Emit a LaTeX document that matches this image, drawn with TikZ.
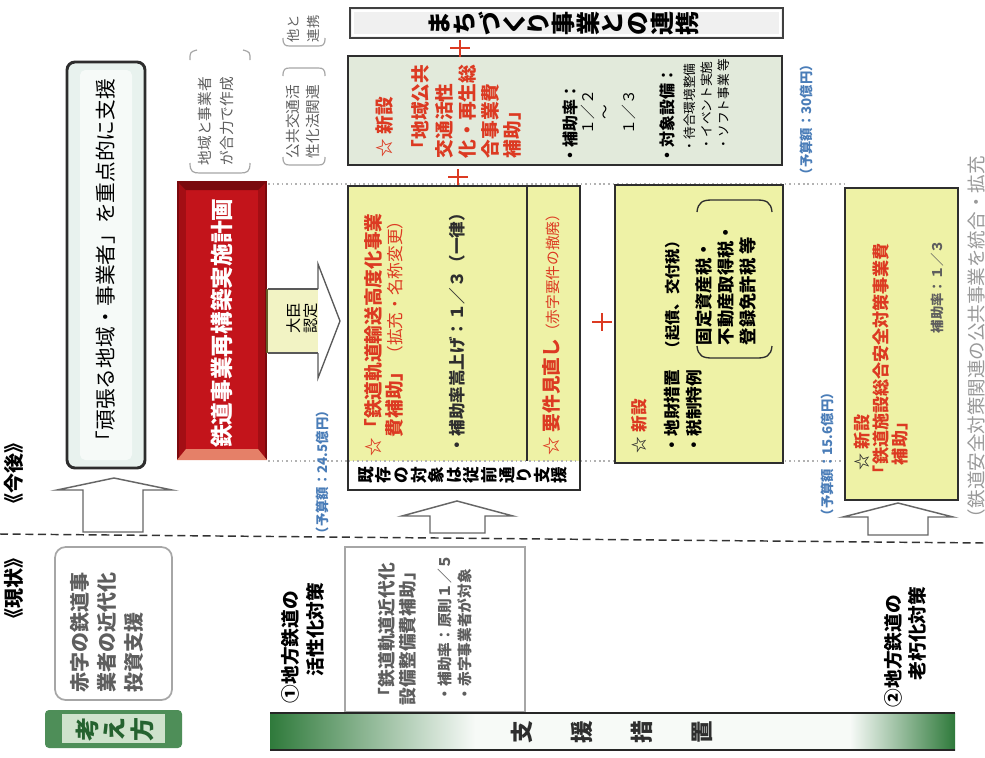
\documentclass[tikz,border=0pt]{standalone}
\usepackage{fontspec}
\newfontfamily\jp{Noto Sans CJK JP}
\usetikzlibrary{fit}
\definecolor{jred}{HTML}{DC3A22}
\definecolor{jblue}{HTML}{4A7DB8}
\definecolor{jyel}{HTML}{EEF2A6}
\definecolor{jlg}{HTML}{E2EADB}
\definecolor{jdark}{HTML}{2E2E2E}
\definecolor{jgray}{HTML}{5E5E5E}
\definecolor{jgreen}{HTML}{2F7A3B}
\definecolor{jgreenl}{HTML}{CFE2CC}
\definecolor{rdark}{HTML}{7A0A0E}
\definecolor{rmid}{HTML}{C3141B}
\definecolor{rlight}{HTML}{E58068}
\definecolor{rside}{HTML}{A30E14}
\definecolor{arrowy}{HTML}{F2F3C4}
\definecolor{mint}{HTML}{E8F2EE}
\newcommand\fs[1]{\fontsize{#1}{#1}\selectfont}
\begin{document}
\begin{tikzpicture}[x=0.75pt,y=-0.75pt,
  vt/.style={rotate=90,anchor=west,inner sep=0pt,outer sep=0pt},
  ch/.style={rotate=90,inner sep=0pt,outer sep=0pt},
  frame/.style={draw=jdark,line width=1.8pt},
  blockarrow/.style={draw=gray!80!black,line width=1.1pt,fill=white},
  plus/.style={draw=jred,line width=1.9pt},
  dotline/.style={draw=gray!60,line width=0.9pt,dash pattern=on 1.2pt off 2.2pt},
  bracket/.style={draw=gray!70,line width=0.9pt},
  boxname/.style={inner sep=0pt,outer sep=0pt}
]
\useasboundingbox (0,0) rectangle (985,757);
\fill[white] (0,0) rectangle (985,757);

% ---- dividers
\draw[dotline] (268,184) -- (848,184);
\draw[dotline] (268,461) -- (848,461);
\draw[draw=gray!40!black,line width=1.1pt,dash pattern=on 6pt off 3.5pt] (0,534) -- (985,543);

% ---- left labels
\node[vt,font=\jp\bfseries\fs{15}] (kongo) at (14,513) {《今後》};
\node[vt,font=\jp\bfseries\fs{15}] (genjo) at (14,628) {《現状》};

% ---- gambaru box
\draw[line width=2.2pt,draw=gray!35!black,fill=mint,rounded corners=6pt] (67,62) rectangle (145,468);
\fill[white!60!mint,rounded corners=4pt] (80,70) rectangle (132,460);
\node[boxname,fit={(67,62)(145,468)}] (gambaru) {};
\node[ch,font=\jp\fs{15.5}] (gambarutext) at (gambaru.center) {「頑張る地域・事業者」を重点的に支援};

% ---- red plan box
\fill[rdark] (177,181) rectangle (267,460);
\fill[rside] (179,183) rectangle (265,458);
\fill[rmid] (186,190) rectangle (258,449);
\fill[rlight] (177,460) -- (186,449) -- (258,449) -- (267,460) -- cycle;
\fill[rdark] (177,181) -- (267,181) -- (258,190) -- (186,190) -- cycle;
\node[boxname,fit={(177,181)(267,460)}] (plan) {};
\node[ch,font=\jp\bfseries\fs{17},text=white] (plantext) at (222,323) {鉄道事業再構築実施計画};

% ---- small bracket labels
\node[vt,font=\jp\fs{11},text=jgray] (la1) at (205,165) {地域と事業者};
\node[vt,font=\jp\fs{11},text=jgray] (la2) at (227,165) {が合力で作成};
\draw[bracket] (190,60) .. controls (190,52) .. (197,50);
\draw[bracket] (243,50) .. controls (250,52) .. (250,60);
\draw[bracket] (190,163) .. controls (190,172) and (193,173) .. (200,173) -- (240,173) .. controls (247,173) and (250,172) .. (250,163);

\node[vt,font=\jp\fs{11},text=jgray] (lb1) at (293,158) {公共交通活};
\node[vt,font=\jp\fs{11},text=jgray] (lb2) at (313,158) {性化法関連};
\draw[bracket] (283,76) .. controls (283,69) and (285,68) .. (290,68) -- (318,68) .. controls (323,68) and (325,69) .. (325,76);
\draw[bracket] (283,157) .. controls (283,164) and (285,165) .. (290,165) -- (318,165) .. controls (323,165) and (325,164) .. (325,157);

\node[vt,font=\jp\fs{10},text=jgray] (lc1) at (293,42) {他と};
\node[vt,font=\jp\fs{10},text=jgray] (lc2) at (313,42) {連携};
\draw[bracket] (283,38) .. controls (283,45) and (285,46) .. (290,46) -- (318,46) .. controls (323,46) and (325,45) .. (325,38);

% ---- minister arrow
\fill[arrowy] (268,289) rectangle (318,353);
\draw[draw=gray!70!black,line width=1pt,fill=white] (318,289) -- (318,264) -- (340,321) -- (318,378) -- (318,353);
\draw[draw=gray!70!black,line width=1pt] (268,289) -- (318,289) (268,353) -- (318,353);
\draw[draw=olive!60!black,line width=1.6pt] (plan.east |- 0,289) -- (plan.east |- 0,353);
\node[ch,font=\jp\fs{11.5}] (daijin1) at (294,318) {大臣};
\node[ch,font=\jp\fs{11.5}] (daijin2) at (311,318) {認定};

% ---- top box
\draw[draw=gray!50!black,line width=1.5pt,fill=gray!12] (350,8) rectangle (783,38);
\draw[draw=white,line width=0.8pt] (353,11) rectangle (780,35);
\node[boxname,fit={(350,8)(783,38)}] (machi) {};
\foreach \c [count=\i from 0] in {ま,ち,づ,く,り,事,業,と,の,連,携}
  \node[ch,font=\jp\bfseries\fs{18}] (mc\i) at ({440+\i*24.7},23) {\c};

% ---- light green box
\draw[frame,fill=jlg] (348,56) rectangle (782,165);
\node[boxname,fit={(348,56)(782,165)}] (chiiki) {};
\node[vt,font=\jp\bfseries\fs{14},text=jred] (g1) at (385,157) {☆ 新設};
\node[vt,font=\jp\bfseries\fs{14},text=jred] (g2) at (420,158) {「地域公共};
\node[vt,font=\jp\bfseries\fs{14},text=jred] (g3) at (444,158) {交通活性};
\node[vt,font=\jp\bfseries\fs{14},text=jred] (g4) at (467,158) {化・再生総};
\node[vt,font=\jp\bfseries\fs{14},text=jred] (g5) at (490,158) {合事業費};
\node[vt,font=\jp\bfseries\fs{14},text=jred] (g6) at (512,158) {補助」};
\node[vt,font=\jp\bfseries\fs{12}] (g7) at (570,163) {・補助率：};
\node[vt,font=\jp\fs{11}] (g8) at (588,134) {１／２};
\node[ch,font=\jp\fs{11}] (g9) at (607,112) {～};
\node[vt,font=\jp\fs{11}] (g10) at (629,134) {１／３};
\node[vt,font=\jp\bfseries\fs{12}] (g11) at (667,163) {・対象設備：};
\node[vt,font=\jp\fs{9.5}] (g12) at (690,152) {・待合環境整備};
\node[vt,font=\jp\fs{9.5}] (g13) at (707,150) {・イベント実施};
\node[vt,font=\jp\fs{9.5}] (g14) at (724,150) {・ソフト事業 等};

% ---- pluses
\draw[plus] (450,48) -- (470,48) (460,40) -- (460,57);
\draw[plus] (448,177) -- (468,177) (458,169) -- (458,186);
\draw[plus] (592,322) -- (612,322) (602,313) -- (602,331);

% ---- main yellow box
\fill[jyel] (348,186) rectangle (580,461);
\fill[white] (348,461) rectangle (580,490);
\draw[dotline] (348,461) -- (580,461);
\draw[draw=jdark,line width=1.1pt] (527,186) -- (527,461);
\draw[frame] (348,186) rectangle (580,490);
\node[boxname,fit={(348,186)(580,490)}] (kodoka) {};
\node[vt,font=\jp\bfseries\fs{14},text=jred] (y1) at (373,456) {☆「鉄道軌道輸送高度化事業};
\node[vt,font=\jp\fs{14},text=jred] (y2) at (394,437) {{\bfseries 費補助」}{\fs{12.5}（拡充・名称変更）}};
\node[vt,font=\jp\bfseries\fs{12.4},text=jdark] (y3) at (457,453) {・補助率嵩上げ：１／３（一律）};
\node[vt,font=\jp\fs{14},text=jred] (y4) at (551,455) {{\bfseries ☆ 要件見直し}{\fs{11}（赤字要件の撤廃）}};
\foreach \c [count=\i from 0] in {既,存,の,対,象,は,従,前,通,り,支,援}
  \node[ch,font=\jp\bfseries\fs{12.5}] (kz\i) at ({366+\i*17.6},475) {\c};

% ---- tax box
\draw[frame,fill=jyel] (615,185) rectangle (783,463);
\node[boxname,fit={(615,185)(783,463)}] (zeisei) {};
\node[vt,font=\jp\bfseries\fs{12.5},text=jred] (t1) at (639,453) {{\color{jdark}☆} 新設};
\node[vt,font=\jp\bfseries\fs{12.5}] (t2) at (672,453) {・地財措置};
\node[vt,font=\jp\bfseries\fs{11.5}] (t3) at (673,356) {（起債、交付税）};
\node[vt,font=\jp\bfseries\fs{12.5}] (t4) at (694,453) {・税制特例};
\node[vt,font=\jp\bfseries\fs{13}] (t5) at (704,345) {固定資産税・};
\node[vt,font=\jp\bfseries\fs{13}] (t6) at (726,345) {不動産取得税・};
\node[vt,font=\jp\bfseries\fs{13}] (t7) at (748,345) {登録免許税 等};
\draw[draw=jdark,line width=1pt] (697,346) .. controls (698,356) and (703,358) .. (712,358) -- (757,358) .. controls (766,358) and (771,356) .. (772,346);
\draw[draw=jdark,line width=1pt] (697,212) .. controls (698,202) and (703,200) .. (712,200) -- (757,200) .. controls (766,200) and (771,202) .. (772,212);

% ---- right box
\draw[frame,fill=jyel] (845,188) rectangle (958,500);
\node[boxname,fit={(845,188)(958,500)}] (anzen) {};
\node[vt,font=\jp\bfseries\fs{12.8},text=jred] (r1) at (862,470) {{\color{jdark}☆} 新設};
\node[vt,font=\jp\bfseries\fs{12.8},text=jred] (r2) at (881,482) {「鉄道施設総合安全対策事業費};
\node[vt,font=\jp\bfseries\fs{12.8},text=jred] (r3) at (900,465) {補助」};
\node[vt,font=\jp\bfseries\fs{10},text=jgray] (r4) at (937,333) {補助率：１／３};

% ---- right edge text
\node[vt,font=\jp\fs{13.9},text=gray!80] (edge) at (976,527) {（鉄道安全対策関連の公共事業を統合・拡充};

% ---- budget labels
\node[vt,font=\jp\bfseries\fs{10},text=jblue] (b1) at (322,540) {（予算額：24.5億円）};
\node[vt,font=\jp\bfseries\fs{10},text=jblue] (b2) at (806,181) {（予算額：30億円）};
\node[vt,font=\jp\bfseries\fs{10},text=jblue] (b3) at (827,522) {（予算額：15.6億円）};

% ---- block arrows up
\draw[blockarrow] (83,532) -- (83,490) -- (57,490) -- (114,478) -- (172,490) -- (143,490) -- (143,532) -- cycle;
\draw[blockarrow] (430,533) -- (430,516) -- (402,516) -- (457,501) -- (513,516) -- (485,516) -- (485,533) -- cycle;
\draw[blockarrow] (868,535) -- (868,517) -- (843,517) -- (898,503) -- (953,517) -- (928,517) -- (928,535) -- cycle;

% ---- current boxes
\draw[draw=gray!70,line width=1.3pt,fill=white,rounded corners=8pt] (55,547) rectangle (172,700);
\node[boxname,fit={(55,547)(172,700)}] (akaji) {};
\node[vt,font=\jp\bfseries\fs{15},text=jgray] (a1) at (80,692) {赤字の鉄道事};
\node[vt,font=\jp\bfseries\fs{15},text=jgray] (a2) at (107,692) {業者の近代化};
\node[vt,font=\jp\bfseries\fs{15},text=jgray] (a3) at (134,692) {投資支援};

\draw[draw=gray!70,line width=1.3pt,fill=white] (345,547) rectangle (525,712);
\node[boxname,fit={(345,547)(525,712)}] (kindai) {};
\node[vt,font=\jp\bfseries\fs{13.3},text=jgray] (k1) at (387,705) {「鉄道軌道近代化};
\node[vt,font=\jp\bfseries\fs{13.3},text=jgray] (k2) at (408,705) {設備整備費補助」};
\node[vt,font=\jp\bfseries\fs{11},text=jgray] (k3) at (445,701) {・補助率：原則１／５};
\node[vt,font=\jp\bfseries\fs{11},text=jgray] (k4) at (465,701) {・赤字事業者が対象};

% ---- measure labels
\node[vt,font=\jp\bfseries\fs{14}] (m1a) at (290,703) {①地方鉄道の};
\node[vt,font=\jp\bfseries\fs{14}] (m1b) at (315,676) {活性化対策};
\node[vt,font=\jp\bfseries\fs{14}] (m2a) at (893,707) {②地方鉄道の};
\node[vt,font=\jp\bfseries\fs{14}] (m2b) at (917,680) {老朽化対策};

% ---- kangaekata
\fill[jgreen!85!white,rounded corners=3pt] (45,710) rectangle (182,748);
\fill[jgreenl] (62,714) rectangle (165,743);
\node[boxname,fit={(45,710)(182,748)}] (kangae) {};
\foreach \c/\xx [count=\i] in {考/87,え/114,方/142}
  \node[ch,font=\jp\bfseries\fs{18},text=jgreen!80!black] (kg\i) at (\xx,729) {\c};

% ---- support bar
\shade[left color=jgreen,right color=jgreen!4] (270,713) rectangle (475,750);
\fill[jgreen!4] (475,713) rectangle (850,750);
\shade[left color=jgreen!4,right color=jgreen] (850,713) rectangle (955,750);
\draw[draw=gray!30!black,line width=1.6pt] (270,713) -- (955,713) (270,750) -- (955,750);
\node[boxname,fit={(270,713)(955,750)}] (shien) {};
\foreach \c/\xx [count=\i] in {支/522,援/582,措/642,置/702}
  \node[ch,font=\jp\bfseries\fs{17},text=jdark] (sc\i) at (\xx,732) {\c};

\end{tikzpicture}
\end{document}
